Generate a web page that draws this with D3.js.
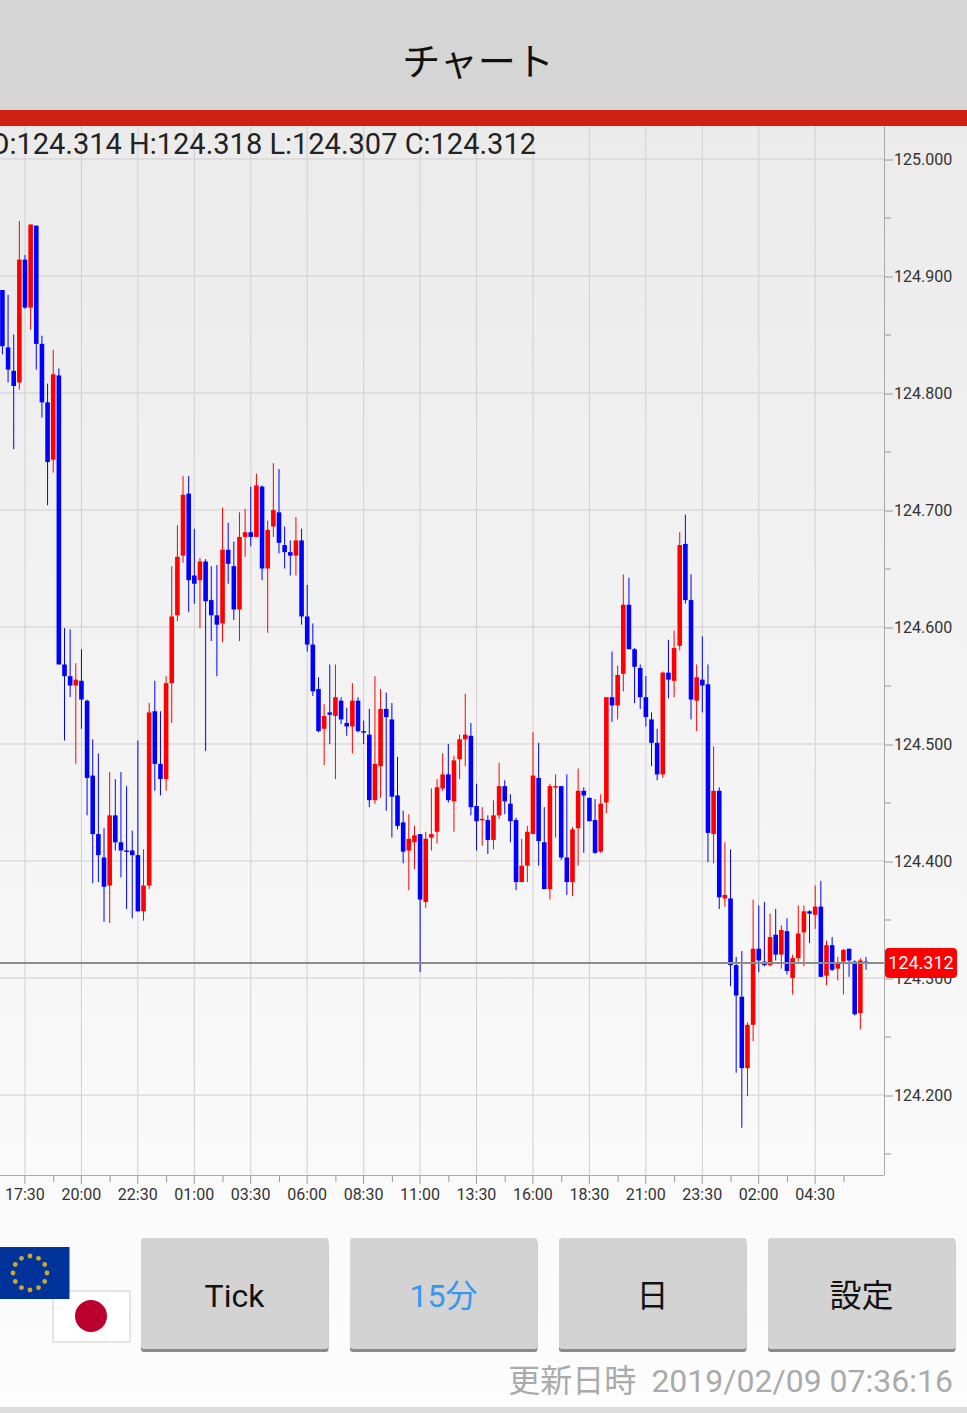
<!DOCTYPE html>
<html>
  <head>
    <meta charset="utf-8">
    <style>
      html, body { margin: 0; padding: 0; background: #fff; overflow: hidden; }
      svg { display: block; }
      text { font-family: Roboto, "Noto Sans CJK JP", sans-serif; }
      .axis-label { font-size: 16px; fill: #333; }
      .button-label { font-size: 32px; fill: #111; text-anchor: middle; }
    </style>
  </head>
  <body>
    <script src="https://d3js.org/d3.v7.min.js"></script>
    <script>
      const opens = [124.888,124.839,124.819,124.809,124.914,124.873,124.943,124.842,124.792,124.743,
        124.815,124.568,124.558,124.550,124.554,124.537,124.473,124.423,124.403,124.379,
        124.439,124.416,124.409,124.409,124.405,124.357,124.379,124.528,124.483,124.470,
        124.552,124.610,124.661,124.714,124.644,124.640,124.656,124.623,124.610,124.603,
        124.666,124.652,124.615,124.677,124.681,124.677,124.720,124.650,124.686,124.698,
        124.670,124.664,124.661,124.674,124.609,124.585,124.547,124.513,124.527,124.524,
        124.537,124.518,124.515,124.537,124.511,124.508,124.452,124.481,124.530,124.521,
        124.456,124.433,124.409,124.416,124.423,124.365,124.420,124.425,124.462,124.474,
        124.451,124.487,124.504,124.507,124.447,124.435,124.435,124.418,124.439,124.464,
        124.449,124.435,124.382,124.396,124.423,124.471,124.416,124.376,124.463,124.464,
        124.403,124.382,124.428,124.460,124.454,124.435,124.408,124.450,124.540,124.533,
        124.560,124.619,124.581,124.565,124.540,124.521,124.501,124.474,124.561,124.554,
        124.584,124.671,124.623,124.537,124.555,124.551,124.423,124.460,124.368,124.368,
        124.311,124.284,124.223,124.260,124.325,124.314,124.311,124.337,124.320,124.340,
        124.300,124.317,124.339,124.357,124.354,124.361,124.302,124.328,124.308,124.314,
        124.325,124.314,124.270,124.314];
      const highs = [124.888,124.884,124.850,124.947,124.918,124.944,124.943,124.849,124.808,124.837,
        124.821,124.599,124.598,124.569,124.581,124.538,124.504,124.492,124.428,124.476,
        124.470,124.476,124.464,124.426,124.503,124.410,124.535,124.554,124.528,124.558,
        124.652,124.687,124.729,124.729,124.684,124.659,124.658,124.652,124.653,124.702,
        124.689,124.673,124.698,124.701,124.720,124.731,124.721,124.691,124.740,124.735,
        124.686,124.674,124.694,124.684,124.636,124.603,124.557,124.534,124.568,124.568,
        124.540,124.531,124.552,124.540,124.520,124.530,124.558,124.547,124.544,124.535,
        124.489,124.443,124.440,124.430,124.423,124.425,124.462,124.470,124.492,124.500,
        124.490,124.508,124.543,124.518,124.466,124.446,124.439,124.452,124.484,124.469,
        124.457,124.437,124.419,124.430,124.510,124.501,124.446,124.466,124.474,124.464,
        124.474,124.429,124.479,124.463,124.454,124.453,124.457,124.540,124.579,124.567,
        124.645,124.642,124.582,124.568,124.558,124.527,124.513,124.562,124.589,124.597,
        124.681,124.696,124.645,124.568,124.592,124.568,124.498,124.463,124.416,124.410,
        124.318,124.323,124.262,124.367,124.362,124.365,124.355,124.359,124.345,124.351,
        124.320,124.362,124.362,124.358,124.379,124.383,124.332,124.335,124.318,124.325,
        124.325,124.315,124.317,124.318];
      const lows = [124.833,124.809,124.752,124.803,124.872,124.854,124.820,124.779,124.704,124.732,
        124.568,124.503,124.540,124.483,124.513,124.439,124.381,124.382,124.348,124.347,
        124.409,124.386,124.359,124.351,124.357,124.349,124.376,124.460,124.456,124.460,
        124.518,124.605,124.655,124.613,124.620,124.599,124.494,124.588,124.558,124.587,
        124.637,124.606,124.588,124.660,124.669,124.677,124.640,124.595,124.677,124.663,
        124.650,124.644,124.644,124.602,124.579,124.541,124.510,124.482,124.500,124.470,
        124.517,124.507,124.492,124.510,124.500,124.446,124.449,124.454,124.443,124.420,
        124.427,124.398,124.375,124.393,124.305,124.360,124.409,124.415,124.460,124.450,
        124.425,124.470,124.481,124.439,124.409,124.413,124.406,124.410,124.436,124.440,
        124.416,124.375,124.382,124.382,124.423,124.396,124.376,124.367,124.420,124.401,
        124.371,124.370,124.396,124.407,124.434,124.406,124.407,124.441,124.519,124.521,
        124.545,124.581,124.535,124.530,124.515,124.481,124.469,124.471,124.539,124.540,
        124.580,124.620,124.521,124.511,124.527,124.399,124.398,124.359,124.361,124.293,
        124.219,124.172,124.199,124.246,124.305,124.310,124.310,124.315,124.308,124.303,
        124.286,124.314,124.310,124.330,124.342,124.301,124.294,124.306,124.298,124.286,
        124.301,124.268,124.256,124.307];
      const closes = [124.840,124.820,124.806,124.914,124.873,124.944,124.842,124.792,124.741,124.816,
        124.568,124.558,124.550,124.555,124.538,124.471,124.423,124.405,124.378,124.439,
        124.416,124.409,124.408,124.405,124.357,124.379,124.527,124.483,124.470,124.552,
        124.609,124.660,124.713,124.640,124.637,124.656,124.622,124.610,124.602,124.666,
        124.654,124.615,124.677,124.681,124.677,124.721,124.650,124.683,124.700,124.672,
        124.664,124.661,124.674,124.609,124.585,124.545,124.511,124.524,124.525,124.540,
        124.521,124.515,124.537,124.511,124.510,124.452,124.483,124.530,124.523,124.455,
        124.430,124.408,124.419,124.422,124.367,124.419,124.423,124.463,124.474,124.452,
        124.486,124.504,124.508,124.446,124.434,124.436,124.418,124.439,124.464,124.451,
        124.434,124.382,124.396,124.425,124.473,124.417,124.376,124.464,124.464,124.403,
        124.382,124.427,124.460,124.456,124.434,124.407,124.449,124.540,124.533,124.559,
        124.619,124.581,124.566,124.540,124.523,124.501,124.474,124.561,124.555,124.582,
        124.670,124.623,124.538,124.557,124.550,124.424,124.460,124.369,124.371,124.311,
        124.285,124.223,124.260,124.325,124.315,124.311,124.335,124.320,124.341,124.306,
        124.317,124.338,124.357,124.355,124.361,124.301,124.328,124.307,124.313,124.324,
        124.315,124.269,124.315,124.312];

      const timeLabels = ['17:30','20:00','22:30','01:00','03:30','06:00','08:30','11:00',
        '13:30','16:00','18:30','21:00','23:30','02:00','04:30'];
      const priceTicks = [125.0,124.9,124.8,124.7,124.6,124.5,124.4,124.3,124.2];
      const priceMinorTicks = [124.95,124.85,124.75,124.65,124.55,124.45,124.35,124.25,124.15];
      const lastPrice = 124.312;
      const ohlcText = 'O:124.314 H:124.318 L:124.307 C:124.312';
      const buttons = ['Tick', '15分', '日', '設定'];
      const updatedLabel = '更新日時';
      const updatedTime = '2019/02/09 07:36:16';

      const width = 967, height = 1413;
      const plot = { top: 126, bottom: 1175, right: 884 };

      const svg = d3.select('body').append('svg')
        .attr('width', width)
        .attr('height', height);

      const grad = svg.append('defs').append('linearGradient')
        .attr('id', 'bg')
        .attr('x1', 0).attr('x2', 0).attr('y1', 0).attr('y2', 1);
      grad.append('stop').attr('offset', '0%').attr('stop-color', '#ebebeb');
      grad.append('stop').attr('offset', '100%').attr('stop-color', '#fdfdfd');

      svg.append('rect').attr('width', width).attr('height', height).attr('fill', '#fff');
      svg.append('rect')
        .attr('y', plot.top)
        .attr('width', width)
        .attr('height', height - plot.top)
        .attr('fill', 'url(#bg)');

      // header
      svg.append('rect').attr('width', width).attr('height', 110).attr('fill', '#d5d5d5');
      svg.append('rect').attr('y', 110).attr('width', width).attr('height', 16).attr('fill', '#cf2014');
      svg.append('text')
        .attr('x', 478).attr('y', 75)
        .attr('text-anchor', 'middle')
        .attr('font-size', 38)
        .attr('fill', '#111')
        .text('チャート');

      const x = d3.scaleLinear()
        .domain([0, opens.length - 1])
        .range([2.42, 866]);
      const y = d3.scaleLinear()
        .domain([125, 124.2])
        .range([159, 1095]);

      const majorIdx = timeLabels.map((d, i) => 4 + i * 10);
      const minorIdx = timeLabels.map((d, i) => 9 + i * 10);

      // grid
      svg.append('g').selectAll('line')
        .data(priceTicks)
        .join('line')
        .attr('x1', 0).attr('x2', plot.right)
        .attr('y1', d => y(d)).attr('y2', d => y(d))
        .attr('stroke', '#cfcfcf');
      svg.append('g').selectAll('line')
        .data(majorIdx)
        .join('line')
        .attr('x1', d => x(d)).attr('x2', d => x(d))
        .attr('y1', plot.top).attr('y2', plot.bottom)
        .attr('stroke', '#d0d0d0');

      // ohlc readout sits over the grid
      svg.append('text')
        .attr('x', 536).attr('y', 154)
        .attr('text-anchor', 'end')
        .attr('font-size', 29)
        .attr('fill', '#222')
        .text(ohlcText);

      // axes
      const xAxis = d3.axisBottom(x)
        .tickValues(majorIdx)
        .tickSize(9)
        .tickPadding(5)
        .tickFormat((d, i) => timeLabels[i]);
      const xMinor = d3.axisBottom(x)
        .tickValues(minorIdx)
        .tickSize(7)
        .tickFormat('');
      const yAxis = d3.axisRight(y)
        .tickValues(priceTicks)
        .tickSize(9)
        .tickPadding(1)
        .tickFormat(d3.format('.3f'));
      const yMinor = d3.axisRight(y)
        .tickValues(priceMinorTicks)
        .tickSize(7)
        .tickFormat('');

      function styleAxis(g) {
        g.select('.domain').remove();
        g.selectAll('.tick line').attr('stroke', '#999');
        g.selectAll('.tick text')
          .attr('class', 'axis-label')
          .attr('fill', null)
          .style('font-family', 'Roboto');
        g.attr('font-family', null).attr('font-size', null);
      }

      svg.append('g').attr('transform', `translate(-0.6,${plot.bottom})`).call(xAxis).call(styleAxis);
      svg.append('g').attr('transform', `translate(0,${plot.bottom})`).call(xMinor).call(styleAxis);
      svg.append('g').attr('transform', `translate(${plot.right},0.5)`).call(yAxis).call(styleAxis);
      svg.append('g').attr('transform', `translate(${plot.right},0)`).call(yMinor).call(styleAxis);

      svg.append('line')
        .attr('x1', 0).attr('x2', plot.right)
        .attr('y1', plot.bottom + 0.5).attr('y2', plot.bottom + 0.5)
        .attr('stroke', '#aaa');
      svg.append('line')
        .attr('x1', plot.right + 0.5).attr('x2', plot.right + 0.5)
        .attr('y1', plot.top).attr('y2', plot.bottom)
        .attr('stroke', '#aaa');

      // candles
      const colour = i => closes[i] >= opens[i] ? '#ff0000' : '#0000ff';
      const bodyWidth = 4.6;
      const candles = svg.append('g').selectAll('g')
        .data(d3.range(opens.length))
        .join('g');
      candles.append('line')
        .attr('x1', i => x(i)).attr('x2', i => x(i))
        .attr('y1', i => y(highs[i])).attr('y2', i => y(lows[i]))
        .attr('stroke', colour)
        .attr('stroke-width', 1);
      candles.append('rect')
        .attr('x', i => x(i) - bodyWidth / 2)
        .attr('width', bodyWidth)
        .attr('y', i => y(Math.max(opens[i], closes[i])))
        .attr('height', i => Math.max(1.5, Math.abs(y(opens[i]) - y(closes[i]))))
        .attr('fill', colour);

      // last price line and tag, drawn a pixel above the scale value like the app does
      const lastY = y(lastPrice) - 1;
      svg.append('line')
        .attr('x1', 0).attr('x2', plot.right)
        .attr('y1', lastY).attr('y2', lastY)
        .attr('stroke', '#8c8c8c')
        .attr('stroke-width', 2);
      svg.append('rect')
        .attr('x', plot.right + 1).attr('y', lastY - 15)
        .attr('width', 72).attr('height', 30)
        .attr('rx', 4)
        .attr('fill', '#ff0000');
      svg.append('text')
        .attr('x', 921).attr('y', lastY + 6.5)
        .attr('text-anchor', 'middle')
        .attr('font-size', 18)
        .attr('fill', '#fff')
        .text(d3.format('.3f')(lastPrice));

      // flags
      svg.append('rect').attr('x', 53).attr('y', 1291).attr('width', 77).attr('height', 51)
        .attr('fill', '#fff').attr('stroke', '#ddd').attr('stroke-width', 1.5);
      svg.append('circle').attr('cx', 91).attr('cy', 1316).attr('r', 16).attr('fill', '#bc002d');
      svg.append('rect').attr('x', -1).attr('y', 1247).attr('width', 70.5).attr('height', 52).attr('fill', '#003399');
      svg.append('g').selectAll('circle')
        .data(d3.range(12))
        .join('circle')
        .attr('r', 2.4)
        .attr('cx', d => 30 + 17 * Math.sin(d / 12 * 2 * Math.PI))
        .attr('cy', d => 1273 - 17 * Math.cos(d / 12 * 2 * Math.PI))
        .attr('fill', '#c9a82e');

      // buttons
      const btnX = d3.scalePoint().domain(buttons).range([141, 768]);
      const btn = svg.append('g').selectAll('g')
        .data(buttons)
        .join('g')
        .attr('transform', d => `translate(${btnX(d)},1238)`);
      btn.append('rect')
        .attr('y', 3).attr('width', 187.5).attr('height', 111)
        .attr('rx', 3)
        .attr('fill', '#8a8a8a');
      btn.append('rect')
        .attr('width', 187.5).attr('height', 111)
        .attr('rx', 3)
        .attr('fill', '#d3d3d3');
      btn.append('text')
        .attr('class', 'button-label')
        .attr('x', 93.5).attr('y', 69)
        .style('fill', d => d === '15分' ? '#3a96ef' : '#111')
        .text(d => d);

      // footer
      const footer = svg.append('text')
        .attr('x', 953).attr('y', 1392)
        .attr('text-anchor', 'end')
        .attr('font-size', 32)
        .attr('fill', '#aaa');
      footer.append('tspan').text(updatedLabel);
      footer.append('tspan').attr('dx', 15).text(updatedTime);
      svg.append('rect').attr('y', 1407).attr('width', width).attr('height', 6).attr('fill', '#dcdcdc');
    </script>
  </body>
</html>
